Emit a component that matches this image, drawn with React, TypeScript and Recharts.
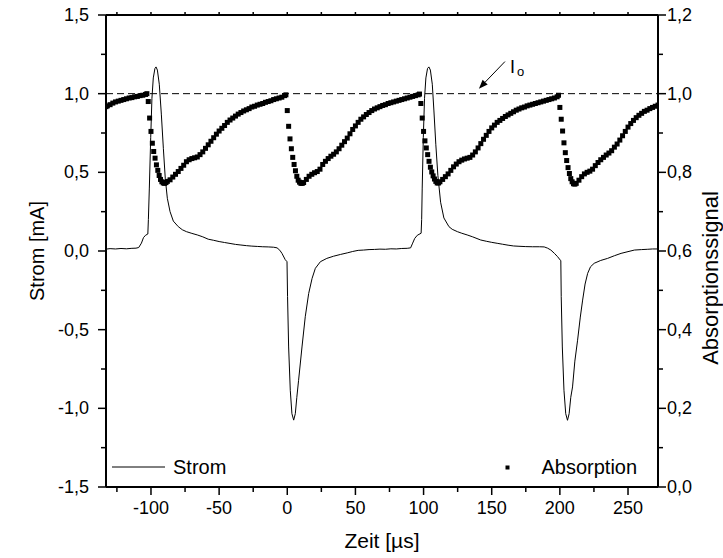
import React from "react";
import {
  ComposedChart,
  Line,
  Scatter,
  XAxis,
  YAxis,
  ReferenceLine,
  ReferenceDot,
  Legend,
} from "recharts";

type Pt = [number, number];

// Strom [mA] over Zeit [µs]
const stromFirstPulse: Pt[] = [
  [-133, 0.012], [-130, 0.015], [-126, 0.013], [-122, 0.016], [-118, 0.014],
  [-114, 0.017], [-111, 0.018], [-109, 0.022], [-107, 0.05], [-105.5, 0.085],
  [-104, 0.1], [-102.3, 0.108], [-101.9, 0.2], [-101.2, 0.4], [-100.2, 0.72],
  [-99.3, 0.97], [-98.3, 1.1], [-97.1, 1.16], [-96.3, 1.17], [-95.3, 1.15],
  [-93.9, 1.06], [-92.4, 0.87], [-90.9, 0.65], [-89.5, 0.46], [-88, 0.335],
  [-86, 0.25], [-83.6, 0.19], [-80, 0.155], [-77, 0.135], [-74, 0.123],
  [-70, 0.112], [-66, 0.102], [-62, 0.09], [-58, 0.075], [-54, 0.068],
  [-50, 0.06], [-46, 0.054], [-42, 0.048], [-38, 0.042], [-34, 0.038],
  [-30, 0.034], [-26, 0.031], [-22, 0.029], [-18, 0.027], [-14, 0.026],
  [-10, 0.024], [-7.5, 0.02],
];
const stromFirstDip: Pt[] = [
  [-5.5, 0.005], [-3.9, -0.015], [-1.5, -0.055], [-0.2, -0.068], [0.2, -0.29],
  [1, -0.61], [2.2, -0.885], [3.4, -1.034], [4.7, -1.075], [5.9, -1.034],
  [7, -0.93], [8.3, -0.822], [10.8, -0.61], [13.2, -0.418], [15.7, -0.27],
  [18.2, -0.174], [20.6, -0.11], [24.3, -0.068], [29, -0.047], [34, -0.033],
  [39, -0.022], [44, -0.012], [48, -0.003], [52, 0.004], [56, 0.006],
  [60, 0.009], [64, 0.01], [68, 0.012], [72, 0.011], [76, 0.014],
  [80, 0.013], [84, 0.016], [88, 0.017], [90.5, 0.02],
];
const stromSecondPulse: Pt[] = [
  [92, 0.05], [93.5, 0.08], [95.4, 0.1], [98.2, 0.113], [98.6, 0.2],
  [99, 0.4], [99.8, 0.72], [100.7, 0.97], [101.7, 1.1], [102.9, 1.16],
  [103.9, 1.17], [105, 1.15], [106.4, 1.06], [107.6, 0.89], [109, 0.675],
  [110.5, 0.48], [112.5, 0.31], [114.9, 0.21], [118.6, 0.155], [121, 0.138],
  [124.8, 0.123], [128, 0.113], [132, 0.102], [136, 0.09], [141.9, 0.07],
  [146, 0.062], [150, 0.055], [154, 0.049], [158, 0.043], [162, 0.037],
  [166, 0.032], [170, 0.03], [175, 0.028], [180, 0.027], [185, 0.027],
  [188.5, 0.026],
];
const stromSecondDip: Pt[] = [
  [191, 0.018], [193.4, 0.006], [196, -0.015], [198.3, -0.036], [200.7, -0.062],
  [201, -0.29], [201.8, -0.61], [203, -0.885], [204.3, -1.034], [205.6, -1.076],
  [206.8, -1.034], [208, -0.93], [209.3, -0.864], [211, -0.7], [213, -0.567],
  [215, -0.42], [216.7, -0.312], [218.5, -0.21], [220.4, -0.142], [222.5, -0.1],
  [225.2, -0.078], [230, -0.06], [235, -0.047], [240, -0.03], [244.9, -0.015],
  [250, -0.004], [254.7, 0.006], [260, 0.009], [264.5, 0.011], [268, 0.013],
  [272, 0.013],
];

// Absorptionssignal (right axis)
const absorptionLead: Pt[] = [
  [-133, 0.967], [-132, 0.969], [-130, 0.972], [-128, 0.976], [-126, 0.979],
  [-124, 0.981], [-122, 0.983], [-120, 0.985], [-118, 0.987], [-116, 0.989],
  [-114, 0.99], [-112, 0.992], [-110, 0.993], [-108, 0.995], [-106, 0.996],
  [-104, 0.998], [-103, 1.0],
];
const absorptionCycle1: Pt[] = [
  [-102, 0.98], [-101, 0.938], [-100, 0.904], [-99, 0.874], [-98, 0.853],
  [-97, 0.836], [-96, 0.819], [-95, 0.805], [-94, 0.792], [-93, 0.782],
  [-92, 0.776], [-91, 0.773], [-90, 0.772], [-89, 0.774], [-88, 0.777],
  [-86, 0.781], [-84, 0.788], [-82, 0.795], [-80, 0.802], [-78, 0.81],
  [-76, 0.818], [-74, 0.827], [-72, 0.832], [-70, 0.835], [-68, 0.837],
  [-66, 0.839], [-64, 0.845], [-62, 0.852], [-60, 0.861], [-58, 0.87],
  [-56, 0.879], [-54, 0.888], [-52, 0.897], [-50, 0.905], [-48, 0.912],
  [-46, 0.919], [-44, 0.927], [-42, 0.933], [-40, 0.938], [-38, 0.943],
  [-36, 0.948], [-34, 0.952], [-32, 0.956], [-30, 0.959], [-28, 0.962],
  [-26, 0.966], [-24, 0.968], [-22, 0.971], [-20, 0.973], [-18, 0.975],
  [-16, 0.978], [-14, 0.98], [-12, 0.982], [-10, 0.985], [-8, 0.987],
  [-6, 0.989], [-4, 0.991], [-2, 0.995], [-1, 0.997],
];
const absorptionCycle2: Pt[] = [
  [0, 0.957], [1, 0.917], [2, 0.885], [3, 0.86], [4, 0.838],
  [5, 0.82], [6, 0.804], [7, 0.79], [8, 0.78], [9, 0.775],
  [10, 0.772], [11, 0.772], [12, 0.774], [14, 0.782], [16, 0.79],
  [18, 0.795], [20, 0.799], [22, 0.802], [24, 0.808], [26, 0.82],
  [28, 0.828], [30, 0.835], [32, 0.841], [34, 0.846], [36, 0.852],
  [38, 0.86], [40, 0.869], [42, 0.878], [44, 0.887], [46, 0.898],
  [48, 0.909], [50, 0.918], [52, 0.927], [54, 0.935], [56, 0.941],
  [58, 0.947], [60, 0.952], [62, 0.957], [64, 0.961], [66, 0.964],
  [68, 0.967], [70, 0.97], [72, 0.972], [74, 0.975], [76, 0.977],
  [78, 0.979], [80, 0.981], [82, 0.983], [84, 0.985], [86, 0.987],
  [88, 0.989], [90, 0.991], [92, 0.993], [94, 0.995], [96, 0.997],
  [97, 0.999],
];
const absorptionCycle3: Pt[] = [
  [98, 0.975], [99, 0.938], [100, 0.904], [101, 0.88], [102, 0.862],
  [103, 0.845], [104, 0.828], [105, 0.813], [106, 0.801], [107, 0.791],
  [108, 0.783], [109, 0.777], [110, 0.773], [111, 0.773], [112, 0.776],
  [114, 0.782], [116, 0.789], [118, 0.796], [120, 0.805], [122, 0.814],
  [124, 0.821], [126, 0.827], [128, 0.831], [130, 0.834], [132, 0.836],
  [134, 0.838], [136, 0.844], [138, 0.852], [140, 0.862], [142, 0.873],
  [144, 0.884], [146, 0.894], [148, 0.904], [150, 0.913], [152, 0.92],
  [154, 0.927], [156, 0.932], [158, 0.937], [160, 0.942], [162, 0.946],
  [164, 0.95], [166, 0.954], [168, 0.958], [170, 0.961], [172, 0.964],
  [174, 0.966], [176, 0.969], [178, 0.971], [180, 0.973], [182, 0.975],
  [184, 0.977], [186, 0.979], [188, 0.981], [190, 0.983], [192, 0.985],
  [194, 0.987], [196, 0.989], [198, 0.992], [199, 0.996],
];
const absorptionCycle4: Pt[] = [
  [200, 0.965], [201, 0.935], [202, 0.905], [203, 0.875], [204, 0.85],
  [205, 0.83], [206, 0.812], [207, 0.797], [208, 0.784], [209, 0.776],
  [210, 0.771], [211, 0.77], [212, 0.772], [214, 0.78], [216, 0.789],
  [218, 0.796], [220, 0.8], [222, 0.803], [224, 0.808], [226, 0.817],
  [228, 0.825], [230, 0.832], [232, 0.838], [234, 0.844], [236, 0.849],
  [238, 0.855], [240, 0.864], [242, 0.872], [244, 0.882], [246, 0.893],
  [248, 0.904], [250, 0.915], [252, 0.924], [254, 0.932], [256, 0.939],
  [258, 0.945], [260, 0.95], [262, 0.955], [264, 0.958], [266, 0.962],
  [268, 0.965], [270, 0.968], [272, 0.971],
];

const xDomain = [-133, 272];
const xTicks = [-125, -100, -75, -50, -25, 0, 25, 50, 75, 100, 125, 150, 175, 200, 225, 250];
const leftTicks = [-1.5, -1.25, -1, -0.75, -0.5, -0.25, 0, 0.25, 0.5, 0.75, 1, 1.25, 1.5];
const rightTicks = [0, 0.1, 0.2, 0.3, 0.4, 0.5, 0.6, 0.7, 0.8, 0.9, 1, 1.1, 1.2];
const i0Level = 1.0;
const i0Arrow = [{ x: 159.7, y: 1.204 }, { x: 140.6, y: 1.032 }];
const i0Label = { x: 163.4, y: 1.134 };

const toRows = (pts: Pt[]) => pts.map(([t, v]) => ({ t, v }));
const stromData = toRows([...stromFirstPulse, ...stromFirstDip, ...stromSecondPulse, ...stromSecondDip]);
const absData = toRows([
  ...absorptionLead, ...absorptionCycle1, ...absorptionCycle2, ...absorptionCycle3, ...absorptionCycle4,
]);

const FONT = '"Liberation Sans", Arial, Helvetica, sans-serif';
const W = 723;
const H = 558;
const TICK_FS = 18;

const comma = (v: number) => v.toFixed(1).replace(".", ",");

function BottomTick({ x, y, payload }: any) {
  const v = payload.value;
  const major = v % 50 === 0;
  return (
    <g>
      <line x1={x} y1={y} x2={x} y2={y + (major ? 8 : 5)} stroke="#000" strokeWidth={1.5} />
      {major && (
        <text x={x} y={y + 27} textAnchor="middle" fontSize={TICK_FS} fontFamily={FONT} fill="#000">
          {v}
        </text>
      )}
    </g>
  );
}

function TopTick({ x, y }: any) {
  return <line x1={x} y1={y} x2={x} y2={y - 3} stroke="#000" strokeWidth={1.5} />;
}

function LeftTick({ x, y, payload }: any) {
  const v = payload.value;
  const major = Math.abs(Math.round(v * 4)) % 2 === 0;
  return (
    <g>
      <line x1={x - (major ? 8 : 5)} y1={y} x2={x} y2={y} stroke="#000" strokeWidth={1.5} />
      {major && (
        <text x={x - 17} y={y + 6} textAnchor="end" fontSize={TICK_FS} fontFamily={FONT} fill="#000">
          {comma(v)}
        </text>
      )}
    </g>
  );
}

function RightTick({ x, y, payload }: any) {
  const v = payload.value;
  const major = Math.round(v * 10) % 2 === 0;
  return (
    <g>
      <line x1={x} y1={y} x2={x + (major ? 8 : 5)} y2={y} stroke="#000" strokeWidth={1.5} />
      {major && (
        <text x={x + 9} y={y + 6} textAnchor="start" fontSize={TICK_FS} fontFamily={FONT} fill="#000">
          {comma(v)}
        </text>
      )}
    </g>
  );
}

function SquareMark({ cx, cy }: any) {
  if (cx == null || cy == null) return null;
  return <rect x={cx - 2.5} y={cy - 2.5} width={5} height={5} fill="#000" />;
}

function ArrowLine({ x1, y1, x2, y2 }: any) {
  const dx = x2 - x1;
  const dy = y2 - y1;
  const len = Math.hypot(dx, dy) || 1;
  const ux = dx / len;
  const uy = dy / len;
  const hl = 9;
  const hw = 3.5;
  const bx = x2 - ux * hl;
  const by = y2 - uy * hl;
  return (
    <g>
      <line x1={x1} y1={y1} x2={bx} y2={by} stroke="#000" strokeWidth={1} />
      <polygon
        points={`${x2},${y2} ${bx - uy * hw},${by + ux * hw} ${bx + uy * hw},${by - ux * hw}`}
        fill="#000"
      />
    </g>
  );
}

function I0Text({ cx, cy }: any) {
  return (
    <text x={cx} y={cy} fontFamily={FONT} fontSize={18} fill="#000">
      I
      <tspan fontSize={13} dx={2} dy={3}>
        o
      </tspan>
    </text>
  );
}

function LegendBox() {
  return (
    <svg width={W} height={H} style={{ position: "absolute", left: 0, top: 0 }}>
      <line x1={112} y1={467} x2={165} y2={467} stroke="#000" strokeWidth={1} />
      <text x={173} y={474} fontFamily={FONT} fontSize={20} fill="#000">
        Strom
      </text>
      <rect x={505.5} y={465.5} width={4} height={4} fill="#000" />
      <text x={541.5} y={474} fontFamily={FONT} fontSize={20} fill="#000">
        Absorption
      </text>
    </svg>
  );
}

export default function App() {
  return (
    <div style={{ position: "absolute", left: 0, top: 0, width: W, height: H }}>
      <ComposedChart width={W} height={H} margin={{ top: 10, right: 5, bottom: 9, left: 46 }}>
        <XAxis
          xAxisId="bottom"
          dataKey="t"
          type="number"
          domain={xDomain}
          allowDataOverflow
          ticks={xTicks}
          interval={0}
          height={62}
          tickSize={0}
          tickMargin={0}
          tickLine={false}
          axisLine={{ stroke: "#000", strokeWidth: 2 }}
          tick={<BottomTick />}
          label={{
            content: () => (
              <text x={382} y={548} textAnchor="middle" fontFamily={FONT} fontSize={21} fill="#000">
                Zeit [µs]
              </text>
            ),
          }}
        />
        <XAxis
          xAxisId="top"
          orientation="top"
          dataKey="t"
          type="number"
          domain={xDomain}
          allowDataOverflow
          ticks={xTicks}
          interval={0}
          height={5}
          tickSize={0}
          tickMargin={0}
          tickLine={false}
          axisLine={{ stroke: "#000", strokeWidth: 2 }}
          tick={<TopTick />}
        />
        <YAxis
          yAxisId="left"
          type="number"
          domain={[-1.5, 1.5]}
          ticks={leftTicks}
          interval={0}
          width={60}
          tickSize={0}
          tickMargin={0}
          tickLine={false}
          axisLine={{ stroke: "#000", strokeWidth: 2 }}
          tick={<LeftTick />}
          label={{
            content: () => (
              <text
                x={44}
                y={251}
                transform="rotate(-90 44 251)"
                textAnchor="middle"
                fontFamily={FONT}
                fontSize={20}
                fill="#000"
              >
                Strom [mA]
              </text>
            ),
          }}
        />
        <YAxis
          yAxisId="right"
          orientation="right"
          type="number"
          domain={[0, 1.2]}
          ticks={rightTicks}
          interval={0}
          width={60}
          tickSize={0}
          tickMargin={0}
          tickLine={false}
          axisLine={{ stroke: "#000", strokeWidth: 2 }}
          tick={<RightTick />}
          label={{
            content: () => (
              <text
                x={718}
                y={278}
                transform="rotate(-90 718 278)"
                textAnchor="middle"
                fontFamily={FONT}
                fontSize={22}
                fill="#000"
              >
                Absorptionssignal
              </text>
            ),
          }}
        />
        <ReferenceLine
          xAxisId="bottom"
          yAxisId="left"
          y={i0Level}
          stroke="#000"
          strokeWidth={1}
          strokeDasharray="7 4"
        />
        <ReferenceLine
          xAxisId="bottom"
          yAxisId="left"
          segment={i0Arrow}
          shape={ArrowLine}
        />
        <ReferenceDot
          xAxisId="bottom"
          yAxisId="left"
          x={i0Label.x}
          y={i0Label.y}
          r={0}
          shape={I0Text}
        />
        <Line
          data={stromData}
          xAxisId="bottom"
          yAxisId="left"
          dataKey="v"
          type="linear"
          stroke="#000"
          strokeWidth={1}
          dot={false}
          isAnimationActive={false}
        />
        <Scatter
          data={absData}
          xAxisId="bottom"
          yAxisId="right"
          dataKey="v"
          shape={SquareMark}
          isAnimationActive={false}
        />
        <Legend
          layout="horizontal"
          verticalAlign="middle"
          wrapperStyle={{ left: 0, top: 0, width: W, height: H, pointerEvents: "none" }}
          content={() => <LegendBox />}
        />
      </ComposedChart>
    </div>
  );
}
